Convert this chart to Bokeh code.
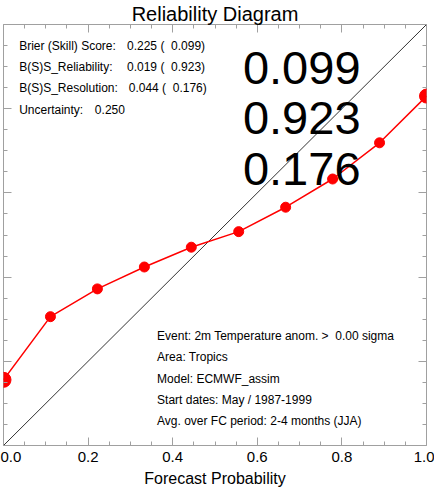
from bokeh.plotting import figure
from bokeh.models import (LinearAxis, Label, Range1d, FixedTicker,
                          PrintfTickFormatter, CustomJSTickFormatter)
from bokeh.embed import file_html
from bokeh.resources import INLINE

# ---- data ----
fc_prob = [0.0, 0.111, 0.222, 0.333, 0.444, 0.556, 0.667, 0.778, 0.889, 1.0]
obs_freq = [0.156, 0.306, 0.372, 0.424, 0.471, 0.508, 0.566, 0.633, 0.719, 0.830]
diag_x = [0.0, 1.0]
diag_y = [0.0, 1.0]
x_tick_values = [0.0, 0.2, 0.4, 0.6, 0.8, 1.0]
minor_tick_values = [0.05, 0.1, 0.15, 0.25, 0.3, 0.35, 0.45, 0.5, 0.55,
                     0.65, 0.7, 0.75, 0.85, 0.9, 0.95]

NB = "\u00a0"
title_text = "Reliability Diagram"
x_axis_title = "Forecast Probability"
stats_names = ["Brier (Skill) Score:", "B(S)S_Reliability:", "B(S)S_Resolution:", "Uncertainty:"]
stats_values = ["0.225 (" + NB + " 0.099)", "0.019 (" + NB + " 0.923)",
                "0.044 (" + NB + " 0.176)", "0.250"]
skill_values = ["0.099", "0.923", "0.176"]
info_lines = [
    "Event: 2m Temperature anom. >" + NB + " 0.00 sigma",
    "Area: Tropics",
    "Model: ECMWF_assim",
    "Start dates: May / 1987-1999",
    "Avg. over FC period: 2-4 months (JJA)",
]

# ---- styles ----
marker_sizes = [15, 10, 10, 10, 10, 10, 10, 10, 10, 14]
FONT = "Liberation Sans"
TICK_COLOR = "#a0a0a0"

p = figure(width=434, height=490,
           x_range=Range1d(0, 1), y_range=Range1d(0, 1),
           output_backend="svg", toolbar_location=None,
           x_axis_location=None, y_axis_location=None,
           min_border_left=3, min_border_right=8, min_border_top=0, min_border_bottom=45)
p.grid.visible = False
p.outline_line_color = TICK_COLOR
p.outline_line_width = 1
p.background_fill_color = "white"
p.border_fill_color = "white"

p.title.text = title_text
p.title.text_font = FONT
p.title.text_font_size = "20px"
p.title.text_font_style = "normal"
p.title.text_color = "black"
p.title.align = "center"
p.title.standoff = 0
p.title.offset = 0


def make_axis(show_labels):
    ax = LinearAxis(ticker=FixedTicker(ticks=x_tick_values, minor_ticks=minor_tick_values))
    ax.axis_line_color = None
    ax.major_tick_in = 8
    ax.major_tick_out = 0
    ax.minor_tick_in = 4
    ax.minor_tick_out = 0
    ax.major_tick_line_color = TICK_COLOR
    ax.minor_tick_line_color = TICK_COLOR
    if show_labels:
        ax.formatter = PrintfTickFormatter(format="%.1f")
        ax.major_label_text_font = FONT
        ax.major_label_text_font_size = "15px"
        ax.major_label_text_color = "black"
        ax.major_label_standoff = 6
        ax.axis_label = x_axis_title
        ax.axis_label_text_font = FONT
        ax.axis_label_text_font_size = "16px"
        ax.axis_label_text_font_style = "normal"
        ax.axis_label_text_color = "black"
        ax.axis_label_standoff = 5
    else:
        ax.formatter = CustomJSTickFormatter(code="return '';")
        ax.major_label_text_font_size = "0px"
        ax.major_label_standoff = 0
    return ax


p.add_layout(make_axis(True), "below")
p.add_layout(make_axis(False), "above")
p.add_layout(make_axis(False), "left")
p.add_layout(make_axis(False), "right")

# diagonal
p.line(diag_x, diag_y, line_color="#333333", line_width=1)
# reliability curve
p.line(fc_prob, obs_freq, line_color="red", line_width=1.5)
p.scatter(fc_prob, obs_freq, size=marker_sizes, fill_color="red", line_color="red", marker="circle")

# stats block
stat_y = [0.949, 0.900, 0.849, 0.798]
stat_vx = [0.292, 0.292, 0.296, 0.216]
for name, val, yy, vx in zip(stats_names, stats_values, stat_y, stat_vx):
    p.add_layout(Label(x=0.037, y=yy, text=name, text_font=FONT, text_font_size="12px",
                       text_baseline="middle", text_align="left", text_color="black"))
    p.add_layout(Label(x=vx, y=yy, text=val, text_font=FONT, text_font_size="12px",
                       text_baseline="middle", text_align="left", text_color="black"))

# big skill numbers
big_y = [0.896, 0.778, 0.656]
for val, yy in zip(skill_values, big_y):
    p.add_layout(Label(x=0.566, y=yy, text=val, text_font=FONT, text_font_size="47px",
                       text_baseline="alphabetic", text_align="left", text_color="black"))

# info block
info_y = [0.260, 0.211, 0.159, 0.109, 0.059]
for line, yy in zip(info_lines, info_y):
    p.add_layout(Label(x=0.363, y=yy, text=line, text_font=FONT, text_font_size="12px",
                       text_baseline="middle", text_align="left", text_color="black"))

open("out.html", "w").write(file_html(p, INLINE))
